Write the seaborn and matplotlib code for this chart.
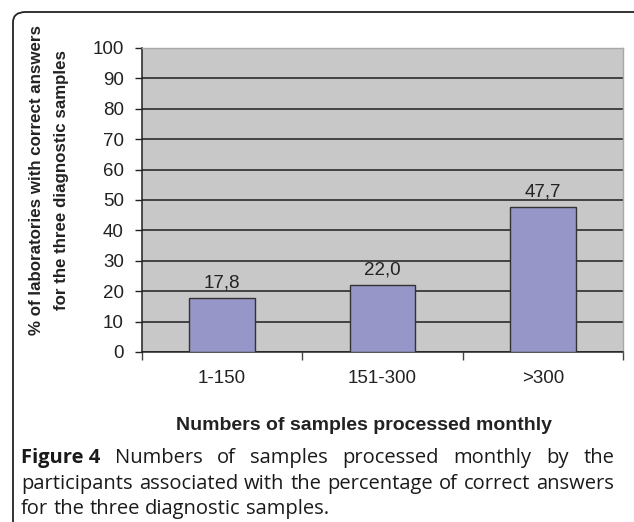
import matplotlib
matplotlib.use("Agg")
import matplotlib.pyplot as plt
from matplotlib.patches import FancyBboxPatch
import seaborn as sns
import pandas as pd

# Data
categories = ["1-150", "151-300", ">300"]
percent_correct = [17.8, 22.0, 47.7]
value_labels = ["17,8", "22,0", "47,7"]
y_ticks = [0, 10, 20, 30, 40, 50, 60, 70, 80, 90, 100]

y_title_lines = ["% of laboratories with correct answers",
                 "for the three diagnostic samples"]
x_title = "Numbers of samples processed monthly"
caption_lines = [
    ("Figure 4", "Numbers of samples processed monthly by the"),
    ("", "participants associated with the percentage of correct answers"),
    ("", "for the three diagnostic samples."),
]

sns.set_theme(style="white")
plt.rcParams["font.family"] = ["Liberation Sans", "DejaVu Sans"]

W, H = 634, 522
fig = plt.figure(figsize=(W / 100, H / 100), dpi=100)

# Outer rounded frame (open toward the bottom/right edges of the figure)
frame = FancyBboxPatch((13 / W, -0.05), (W + 20) / W - 13 / W, (H - 12) / H + 0.05,
                       boxstyle="round,pad=0,rounding_size=0.02",
                       transform=fig.transFigure, fill=False,
                       edgecolor="#222222", linewidth=1.3, clip_on=False)
fig.patches.append(frame)

ax = fig.add_axes([142 / W, 1 - 352 / H, (623 - 142) / W, (352 - 48) / H])
ax.set_facecolor("#c8c8c9")

df = pd.DataFrame({"cat": categories, "val": percent_correct})
sns.barplot(data=df, x="cat", y="val", ax=ax, color="#9696c8", saturation=1,
            width=0.41, edgecolor="#333333", linewidth=1.0, zorder=3)

ax.set_ylim(0, 100)
ax.set_xlim(-0.5, 2.5)
ax.set_yticks(y_ticks)
ax.yaxis.grid(True, color="#1e1e1e", linewidth=1.1, zorder=0)
ax.set_axisbelow(True)

# Category boundaries carry the tick marks; labels sit at category centres
ax.set_xticks([-0.5, 0.5, 1.5, 2.5])
ax.set_xticklabels([])
ax.set_xticks(range(len(categories)), minor=True)
ax.set_xticklabels(categories, minor=True, fontsize=13.5, color="#222222")
ax.tick_params(axis="x", which="major", length=6, width=1, color="#444444",
               direction="out", bottom=True)
ax.tick_params(axis="x", which="minor", length=0, pad=13)
ax.tick_params(axis="y", length=5, width=1, color="#222222", direction="out",
               left=True, labelsize=13.5, labelcolor="#222222", pad=8)

for side in ["left", "bottom"]:
    ax.spines[side].set_color("#222222")
    ax.spines[side].set_linewidth(1.1)
for side in ["top", "right"]:
    ax.spines[side].set_color("#a8a8a8")
    ax.spines[side].set_linewidth(1.0)

for i, (v, lab) in enumerate(zip(percent_correct, value_labels)):
    ax.text(i, v + 5.0, lab, ha="center", va="center", fontsize=13.5, color="#222222")

ax.set_xlabel("")
ax.set_ylabel("")
for xpx, line in zip([37, 62], y_title_lines):
    fig.text(xpx / W, 1 - 180 / H, line, rotation=90, ha="center", va="center",
             fontsize=12.2, fontweight="bold", color="#222222")
fig.text(364 / W, 1 - 425 / H, x_title, ha="center", va="center",
         fontsize=14, fontweight="bold", color="#222222")

# Justified caption
cap_font = ["Open Sans", "DejaVu Sans"]
left_px, right_px = 21, 614
line_y = [458, 484, 509]
fig.canvas.draw()
renderer = fig.canvas.get_renderer()

# size the caption so the longest line fits the frame width at normal spacing
probe = fig.text(0, 0, caption_lines[1][1], fontsize=10, family=cap_font)
probe_w = probe.get_window_extent(renderer=renderer).width
probe.remove()
cap_size = 10 * (right_px - left_px - 6) / probe_w

for li, ((bold_part, rest), yv) in enumerate(zip(caption_lines, line_y)):
    words = []
    if bold_part:
        words.append((bold_part, "bold"))
    words += [(w, "normal") for w in rest.split()]
    items = []
    for w, weight in words:
        t = fig.text(0, 1 - yv / H, w, fontsize=cap_size, fontweight=weight,
                     family=cap_font, color="#1a1a1a", va="center", ha="left")
        bb = t.get_window_extent(renderer=renderer)
        items.append((t, bb.width))
    total = sum(wd for _, wd in items)
    if li < len(caption_lines) - 1:
        gap = (right_px - left_px - total) / (len(items) - 1)
    else:
        gap = cap_size * 100 / 72 * 0.26
    x = left_px
    for t, wd in items:
        t.set_x(x / W)
        x += wd + gap

fig.savefig("out.png", dpi=100)
